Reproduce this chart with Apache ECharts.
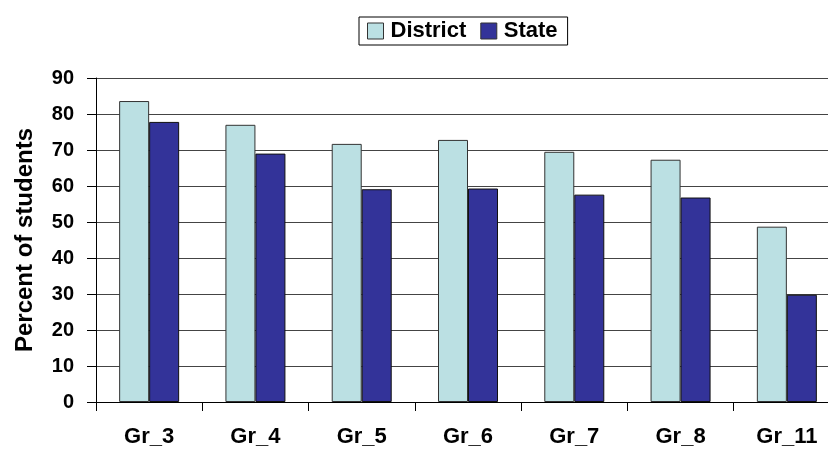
<!DOCTYPE html>
<html>
<head>
<meta charset="utf-8">
<script src="https://cdn.jsdelivr.net/npm/echarts@6/dist/echarts.min.js"></script>
<style>
  html, body { margin: 0; padding: 0; overflow: hidden; background: #fff; }
  /* plot area runs past the right edge of the picture, like the original */
  #chart { width: 840px; height: 453px; }
</style>
</head>
<body>
<div id="chart"></div>
<script>
// grades on the x axis
var grades = ["Gr_3", "Gr_4", "Gr_5", "Gr_6", "Gr_7", "Gr_8", "Gr_11"];
// percent of students
var district = [83.6, 77.0, 71.7, 72.8, 69.5, 67.3, 48.7];
var state = [77.8, 69.0, 59.1, 59.3, 57.6, 56.8, 29.8];

var chart = echarts.init(document.getElementById("chart"));

var boldFont = {
  fontFamily: "Liberation Sans, Arial, sans-serif",
  fontWeight: "bold",
  color: "#000",
};

chart.setOption({
  animation: false,
  textStyle: { fontFamily: "Liberation Sans, Arial, sans-serif" },
  legend: {
    top: 17,
    left: 359,
    itemWidth: 16,
    itemHeight: 16,
    itemGap: 14,
    padding: [3, 10, 3, 8],
    borderColor: "#000",
    borderWidth: 1,
    itemStyle: { borderColor: "#333", borderWidth: 1 },
    textStyle: Object.assign({}, boldFont, { fontSize: 22, padding: [0, 0, 0, 2] }),
    data: [
      { name: "District", icon: "rect" },
      { name: "State", icon: "rect" },
    ],
  },
  grid: {
    left: 96,
    top: 78,
    right: 0,
    bottom: 51,
    outerBoundsMode: "none",
  },
  xAxis: {
    type: "category",
    data: grades,
    axisLine: { lineStyle: { color: "#000", width: 1 } },
    axisTick: { show: true, length: 9, lineStyle: { color: "#000" } },
    axisLabel: Object.assign({}, boldFont, { fontSize: 22, margin: 24 }),
    splitLine: { show: false },
  },
  yAxis: {
    type: "value",
    min: 0,
    max: 90,
    interval: 10,
    name: "Percent of students",
    nameLocation: "middle",
    nameRotate: 90,
    nameGap: 59,
    nameTextStyle: Object.assign({}, boldFont, { fontSize: 24 }),
    axisLine: { show: true, lineStyle: { color: "#000", width: 1 } },
    axisTick: { show: true, length: 9, lineStyle: { color: "#000" } },
    axisLabel: Object.assign({}, boldFont, { fontSize: 20, margin: 22 }),
    splitLine: { show: true, lineStyle: { color: "#444", width: 1 } },
  },
  series: [
    {
      name: "District",
      type: "bar",
      data: district,
      barWidth: 30,
      barGap: "0%",
      itemStyle: { color: "#bbe0e3", borderColor: "#333", borderWidth: 1 },
    },
    {
      name: "State",
      type: "bar",
      data: state,
      barWidth: 30,
      barGap: "0%",
      itemStyle: { color: "#333399", borderColor: "#111", borderWidth: 1 },
    },
  ],
});
</script>
</body>
</html>
